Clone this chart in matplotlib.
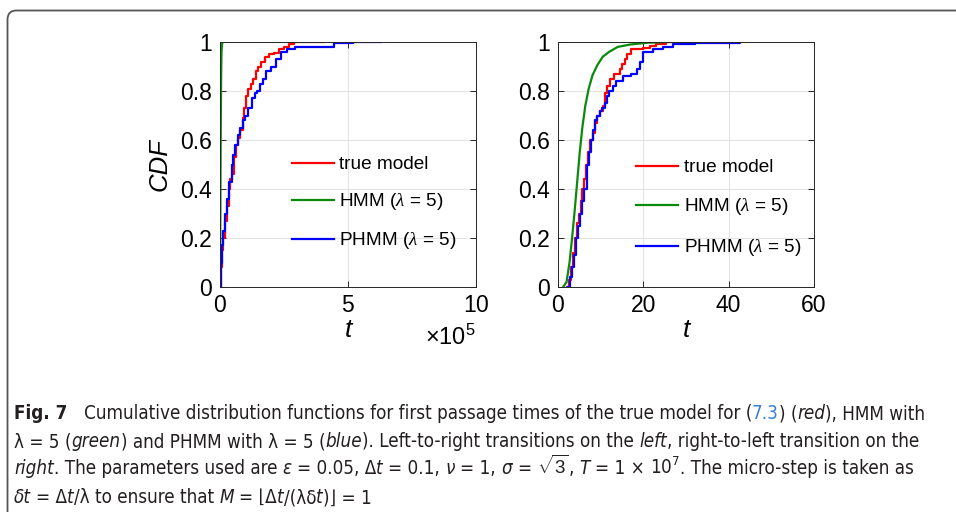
import matplotlib
matplotlib.use("Agg")
import matplotlib.pyplot as plt
import numpy as np
from matplotlib import font_manager
from matplotlib.patches import FancyBboxPatch
from matplotlib.ticker import ScalarFormatter
from matplotlib.transforms import IdentityTransform

# ---------------------------------------------------------------------------
# Data
# left panel : t in units of 1e5 (left-to-right transitions)
t_scale = 1e5
left_true_t = [0, 0.03, 0.08, 0.13, 0.2, 0.28, 0.35, 0.4, 0.47, 0.55,
               0.63, 0.72, 0.8, 0.88, 0.95, 1.02, 1.1, 1.2, 1.3, 1.4,
               1.5, 1.6, 1.75, 1.9, 2.1, 2.3, 2.5, 2.7, 2.9, 4.05]
left_true_cdf = [0, 0.08, 0.15, 0.2, 0.27, 0.33, 0.4, 0.44, 0.46, 0.53,
                 0.58, 0.61, 0.64, 0.69, 0.73, 0.78, 0.81, 0.83, 0.85, 0.88,
                 0.9, 0.92, 0.94, 0.95, 0.955, 0.97, 0.98, 0.99, 1.0, 1.0]
left_hmm_t = [0, 0.01, 0.02, 0.03, 0.04, 0.05, 0.06, 0.08, 0.1]
left_hmm_cdf = [0, 0.2, 0.45, 0.65, 0.8, 0.9, 0.96, 0.99, 1.0]
left_phmm_t = [0, 0.03, 0.08, 0.13, 0.2, 0.28, 0.36, 0.45, 0.52, 0.6,
               0.7, 0.78, 0.88, 0.98, 1.1, 1.24, 1.35, 1.46, 1.58, 1.67,
               1.8, 2.0, 2.2, 2.4, 2.6, 2.93, 3.5, 4.45, 5.2, 6.3]
left_phmm_cdf = [0, 0.1, 0.17, 0.23, 0.3, 0.36, 0.43, 0.5, 0.54, 0.58,
                 0.62, 0.65, 0.68, 0.7, 0.73, 0.77, 0.79, 0.8, 0.83, 0.85,
                 0.88, 0.9, 0.93, 0.96, 0.97, 0.98, 0.98, 0.995, 1.0, 1.0]

# right panel (right-to-left transition)
right_true_t = [2.0, 2.6, 3.1, 3.6, 4.0, 4.5, 4.9, 5.3, 5.7, 6.1,
                6.5, 7.0, 7.6, 8.1, 8.6, 9.2, 9.8, 10.5, 11.0, 11.5,
                12.1, 13.2, 14.5, 15.0, 15.6, 16.2, 17.0, 20.0, 21.5, 23.0,
                25.4, 27.0]
right_true_cdf = [0, 0.03, 0.08, 0.14, 0.2, 0.26, 0.3, 0.35, 0.4, 0.44,
                  0.5, 0.55, 0.6, 0.63, 0.67, 0.7, 0.72, 0.74, 0.79, 0.82,
                  0.85, 0.87, 0.89, 0.91, 0.93, 0.95, 0.97, 0.975, 0.985, 0.99,
                  1.0, 1.0]
right_hmm_t = [1.2, 2.0, 2.7, 3.3, 3.9, 4.5, 5.1, 5.7, 6.4, 7.2,
               8.1, 9.2, 10.5, 12, 14, 17, 21, 26, 35]
right_hmm_cdf = [0, 0.02, 0.1, 0.2, 0.31, 0.43, 0.55, 0.65, 0.74, 0.81,
                 0.865, 0.905, 0.94, 0.96, 0.98, 0.99, 0.997, 1.0, 1.0]
right_phmm_t = [2.3, 2.8, 3.3, 3.8, 4.3, 4.8, 5.2, 5.7, 6.2, 6.8,
                7.3, 7.7, 8.2, 8.6, 9.2, 9.8, 10.4, 11.0, 11.6, 12.0,
                12.9, 13.7, 15.3, 17.2, 18.4, 19.2, 20.0, 22.3, 24.7, 27.0,
                32.0, 42.6]
right_phmm_cdf = [0, 0.04, 0.08, 0.13, 0.2, 0.25, 0.3, 0.35, 0.4, 0.5,
                  0.55, 0.6, 0.64, 0.68, 0.7, 0.72, 0.73, 0.75, 0.78, 0.8,
                  0.82, 0.84, 0.86, 0.87, 0.89, 0.92, 0.96, 0.97, 0.98, 0.99,
                  0.995, 1.0]

labels = ["true model", r"HMM ($\lambda$ = 5)", r"PHMM ($\lambda$ = 5)"]
colors = ["#ff0000", "#0a8a0a", "#0000ff"]

y_ticks = [0, 0.2, 0.4, 0.6, 0.8, 1]
y_ticklabels = ["0", "0.2", "0.4", "0.6", "0.8", "1"]
left_xticks = [0, 5, 10]
right_xticks = [0, 20, 40, 60]

# ---------------------------------------------------------------------------
W, H = 956, 512
plt.rcParams["font.family"] = ["Liberation Sans", "DejaVu Sans"]
plt.rcParams["mathtext.fontset"] = "custom"
plt.rcParams["mathtext.rm"] = "Liberation Sans"
plt.rcParams["mathtext.it"] = "Liberation Serif:italic"
plt.rcParams["mathtext.bf"] = "Liberation Sans:bold"

fig = plt.figure(figsize=(W / 100, H / 100), dpi=100)
fig.patch.set_facecolor("white")

# rounded frame of the figure box (cut on the right and bottom)
frame = FancyBboxPatch((7.5, -30), 1000, H + 30 - 10.5,
                       boxstyle="round,pad=0,rounding_size=9",
                       transform=IdentityTransform(), fill=False,
                       edgecolor="#555555", lw=1.3)
fig.patches.append(frame)

ax1 = fig.add_axes([220 / W, 1 - 287 / H, 256 / W, 245 / H])
ax2 = fig.add_axes([558 / W, 1 - 287 / H, 256 / W, 245 / H])

ax1.plot(np.array(left_true_t) * t_scale, left_true_cdf, color=colors[0],
         lw=1.6, drawstyle="steps-post", label=labels[0])
ax1.plot(np.array(left_hmm_t) * t_scale, left_hmm_cdf, color=colors[1],
         lw=1.6, label=labels[1])
ax1.plot(np.array(left_phmm_t) * t_scale, left_phmm_cdf, color=colors[2],
         lw=1.6, drawstyle="steps-post", label=labels[2])

ax2.plot(right_true_t, right_true_cdf, color=colors[0], lw=1.6,
         drawstyle="steps-post", label=labels[0])
ax2.plot(right_hmm_t, right_hmm_cdf, color=colors[1], lw=1.6, label=labels[1])
ax2.plot(right_phmm_t, right_phmm_cdf, color=colors[2], lw=1.6,
         drawstyle="steps-post", label=labels[2])

ax1.set_xlim(0, 10 * t_scale)
ax1.set_xticks(np.array(left_xticks) * t_scale)
fmt = ScalarFormatter(useMathText=True)
fmt.set_powerlimits((5, 5))
ax1.xaxis.set_major_formatter(fmt)
ax1.xaxis.get_offset_text().set_visible(False)
ax1.text(1.0, -0.155, r"$\times\mathregular{10^{5}}$", transform=ax1.transAxes,
         ha="right", va="top", fontsize=17)

ax2.set_xlim(0, 60)
ax2.set_xticks(right_xticks)

for ax in (ax1, ax2):
    ax.set_ylim(0, 1)
    ax.set_yticks(y_ticks)
    ax.set_yticklabels(y_ticklabels)
    ax.tick_params(direction="in", top=True, right=True, length=4, width=0.7,
                   color="#262626", labelsize=16.5, labelcolor="black")
    ax.tick_params(axis="x", pad=5)
    ax.tick_params(axis="y", pad=6)
    ax.grid(True, color="#e4e4e4", lw=0.8)
    ax.set_axisbelow(True)
    for sp in ax.spines.values():
        sp.set_color("#262626")
        sp.set_linewidth(0.7)
    ax.set_xlabel("t", style="italic", fontsize=19, labelpad=1)

ax1.set_ylabel("CDF", style="italic", fontsize=18.5, labelpad=6)

ax1.legend(loc="center left", bbox_to_anchor=(0.28, 0.34), frameon=False,
           fontsize=13.7, handlelength=2.2, handletextpad=0.3,
           labelspacing=0.95, borderaxespad=0, borderpad=0)
ax2.legend(loc="center left", bbox_to_anchor=(0.305, 0.32), frameon=False,
           fontsize=13.7, handlelength=2.2, handletextpad=0.3,
           labelspacing=1.05, borderaxespad=0, borderpad=0)

# ---------------------------------------------------------------------------
# Caption, drawn segment by segment (mixed bold / italic / link colour)
cap_family = ["Liberation Sans", "DejaVu Sans"]
cap_stretch = "normal"
for fam, stretch in [("Liberation Sans Narrow", "normal"),
                     ("Liberation Sans", "condensed"),
                     ("DejaVu Sans", "condensed")]:
    try:
        path = font_manager.findfont(
            font_manager.FontProperties(family=fam, stretch=stretch),
            fallback_to_default=False)
    except Exception:
        continue
    if "narrow" in path.lower() or "condensed" in path.lower():
        cap_family = [fam, "DejaVu Sans"]
        cap_stretch = stretch
        break

renderer = fig.canvas.get_renderer()
text_col = "#231f20"
link_col = "#3b7fd6"

caption = [
    [("Fig. 7", "b"),
     ("   Cumulative distribution functions for first passage times of the true model for (", "n"),
     ("7.3", "link"), (") (", "n"), ("red", "i"), ("), HMM with", "n")],
    [("λ = 5 (", "n"), ("green", "i"), (") and PHMM with λ = 5 (", "n"),
     ("blue", "i"), ("). Left-to-right transitions on the ", "n"), ("left", "i"),
     (", right-to-left transition on the", "n")],
    [("right", "i"), (". The parameters used are ", "n"), ("ε", "i"),
     (" = 0.05, Δ", "n"), ("t", "i"), (" = 0.1, ", "n"), ("ν", "i"),
     (" = 1, ", "n"), ("σ", "i"), (" = ", "n"), (r"$\sqrt{3}$", "n"),
     (", ", "n"), ("T", "i"), (" = 1 × ", "n"), (r"$\mathregular{10^{7}}$", "n"),
     (". The micro-step is taken as", "n")],
    [("δt", "i"), (" = Δ", "n"), ("t", "i"), ("/λ to ensure that ", "n"),
     ("M", "i"), (" = ⌊Δ", "n"), ("t", "i"), ("/(λδ", "n"), ("t", "i"),
     (")⌋ = 1", "n")],
]
cap_y = [419, 447, 474, 503]


def seg_kw(style, size):
    kw = dict(fontsize=size, family=cap_family, stretch=cap_stretch,
              color=text_col, va="baseline")
    if style == "b":
        kw["weight"] = "bold"
    elif style == "i":
        kw["style"] = "italic"
    elif style == "link":
        kw["color"] = link_col
    return kw


def text_width(s, kw):
    t = fig.text(0, 0, s, **kw)
    w = t.get_window_extent(renderer).width
    t.remove()
    return w


def rich_line(segs, x0, y, size):
    x = x0
    arts = []
    for txt, style in segs:
        kw = seg_kw(style, size)
        sp = text_width("a a", kw) - text_width("aa", kw)
        core = txt.strip(" ")
        lead = len(txt) - len(txt.lstrip(" "))
        trail = len(txt) - len(txt.rstrip(" ")) if core else 0
        x += lead * sp
        if core:
            t = fig.text(x / W, 1 - y / H, core, **kw)
            arts.append(t)
            x += t.get_window_extent(renderer).width
        x += trail * sp
    return arts, x


# fit the font size so the first line spans the same width as the reference
base = 12.0
arts, xend = rich_line(caption[0], 14, cap_y[0], base)
for a in arts:
    a.remove()
cap_size = base * (926 - 14) / (xend - 14)

for segs, y in zip(caption, cap_y):
    rich_line(segs, 14, y, cap_size)

plt.savefig("out.png", dpi=100)
